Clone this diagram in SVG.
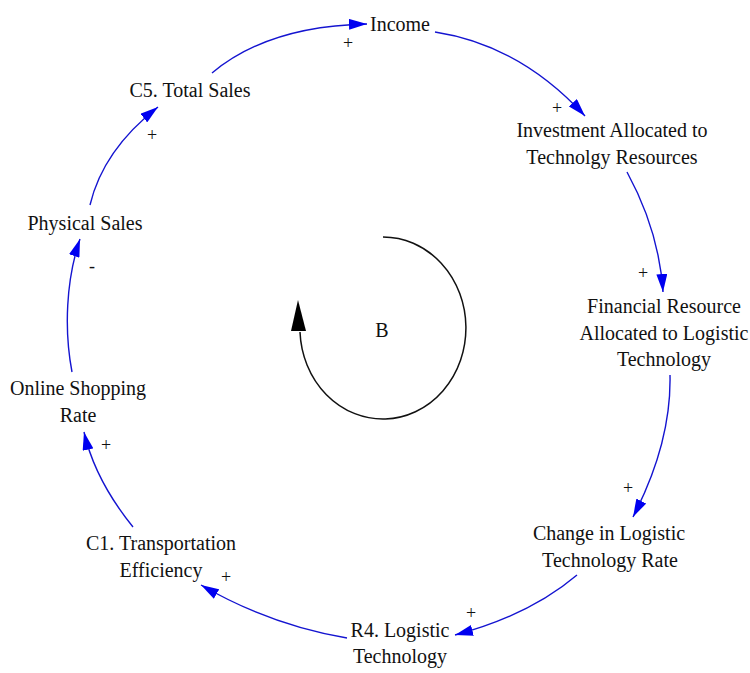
<svg xmlns="http://www.w3.org/2000/svg" width="750" height="673" viewBox="0 0 750 673">
  <style>
    .lbl { font-family: "Liberation Serif", "Times New Roman", serif; font-size: 20px; fill: #111; text-anchor: middle; }
    .sign { font-family: "Liberation Serif", "Times New Roman", serif; font-size: 18px; fill: #111; text-anchor: middle; }
    .link { fill: none; stroke: #1414d0; stroke-width: 1.4; marker-end: url(#arrow); }
  </style>
  <defs>
    <marker id="arrow" markerUnits="userSpaceOnUse" viewBox="0 0 18 11" refX="18" refY="5.5" markerWidth="18" markerHeight="11" orient="auto">
      <path d="M0,0 L18,5.5 L0,11 Z" fill="#0000f0"/>
    </marker>
  </defs>
  <rect width="750" height="673" fill="#fff"/>

  <!-- causal links -->
  <g id="links">
    <path class="link" d="M212,73 Q268,26 367,24"/>
    <path class="link" d="M435,32 Q520,45 585,116"/>
    <path class="link" d="M627,172 C645,205 660,245 663,292"/>
    <path class="link" d="M670,375 C671,420 660,465 633,517"/>
    <path class="link" d="M577,575 Q530,615 455,635"/>
    <path class="link" d="M347,638 Q270,625 201,585"/>
    <path class="link" d="M133,527 Q95,480 84,432"/>
    <path class="link" d="M72,372 C64,330 66,280 80,239"/>
    <path class="link" d="M90,205 Q103,150 158,107"/>
  </g>

  <!-- polarity signs -->
  <g id="signs">
    <text class="sign" x="348" y="49">+</text>
    <text class="sign" x="557" y="114">+</text>
    <text class="sign" x="643" y="279">+</text>
    <text class="sign" x="628" y="494">+</text>
    <text class="sign" x="471" y="619">+</text>
    <text class="sign" x="226" y="583">+</text>
    <text class="sign" x="106" y="451">+</text>
    <text class="sign" x="92" y="272">-</text>
    <text class="sign" x="152" y="141">+</text>
  </g>

  <!-- variables -->
  <g id="income"><text class="lbl" x="400" y="31">Income</text></g>
  <g id="investment">
    <text class="lbl" x="612" y="137">Investment Allocated to</text>
    <text class="lbl" x="612" y="164">Technolgy Resources</text>
  </g>
  <g id="financial-resource">
    <text class="lbl" x="664" y="313">Financial Resource</text>
    <text class="lbl" x="664" y="340">Allocated to Logistic</text>
    <text class="lbl" x="664" y="366">Technology</text>
  </g>
  <g id="change-rate">
    <text class="lbl" x="609" y="540">Change in Logistic</text>
    <text class="lbl" x="610" y="567">Technology Rate</text>
  </g>
  <g id="logistic-technology">
    <text class="lbl" x="400" y="637">R4. Logistic</text>
    <text class="lbl" x="400" y="663">Technology</text>
  </g>
  <g id="transport-efficiency">
    <text class="lbl" x="161" y="550">C1. Transportation</text>
    <text class="lbl" x="161" y="577">Efficiency</text>
  </g>
  <g id="online-shopping">
    <text class="lbl" x="78" y="395">Online Shopping</text>
    <text class="lbl" x="78" y="422">Rate</text>
  </g>
  <g id="physical-sales"><text class="lbl" x="85" y="230">Physical Sales</text></g>
  <g id="total-sales"><text class="lbl" x="190" y="97">C5. Total Sales</text></g>

  <!-- balancing loop marker -->
  <g id="loop-b">
    <path d="M383,237 A83,91 0 1 1 300,332" fill="none" stroke="#111" stroke-width="1.5"/>
    <polygon points="298,300 291,331 306,331" fill="#000"/>
    <text class="lbl" x="382" y="337">B</text>
  </g>
</svg>
